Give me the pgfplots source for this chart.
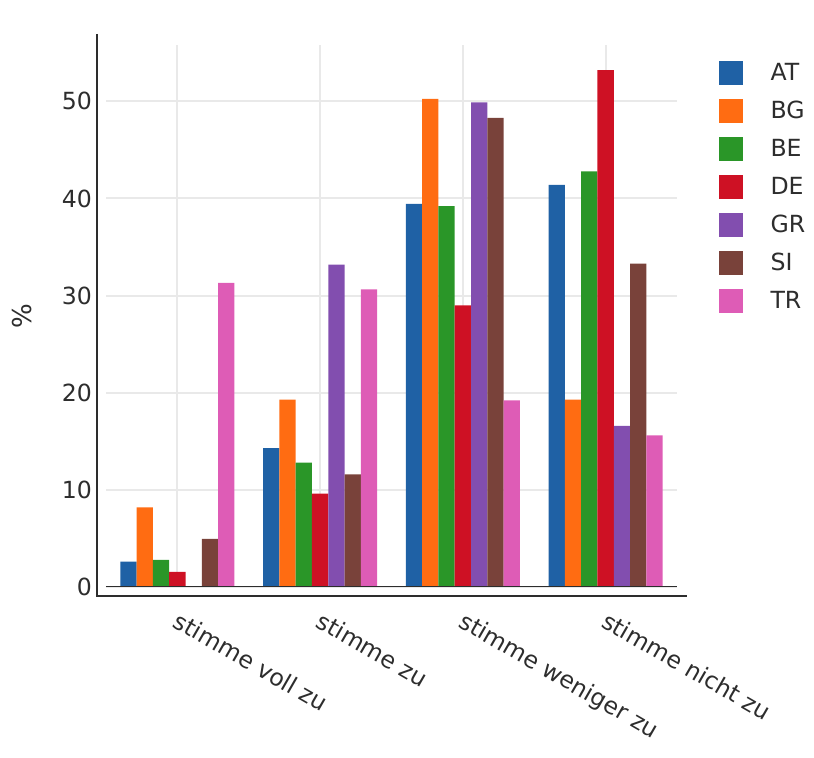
\documentclass[border=0pt]{standalone}
\usepackage{pgfplots}
\pgfplotsset{compat=1.18}
\usepackage{fontspec}
\setmainfont{DejaVu Sans}
\definecolor{cAT}{RGB}{31,97,165}
\definecolor{cBG}{RGB}{255,108,18}
\definecolor{cBE}{RGB}{42,150,40}
\definecolor{cDE}{RGB}{206,17,36}
\definecolor{cGR}{RGB}{130,78,175}
\definecolor{cSI}{RGB}{121,66,58}
\definecolor{cTR}{RGB}{222,92,182}
\definecolor{txt}{RGB}{45,45,45}
\definecolor{gridc}{RGB}{233,233,233}
\begin{document}
\begin{tikzpicture}
\useasboundingbox (-53pt,-85.5pt) rectangle (354pt,293.5pt);
\begin{axis}[
  at={(0pt,0pt)}, anchor=south west,
  scale only axis, width=285.5pt, height=271pt,
  xmin=-0.5, xmax=3.5, ymin=0, ymax=55.8,
  clip=false,
  axis line style={draw=none},
  ybar=0pt, bar width=0.1143,
  xtick={0,1,2,3},
  xticklabels={stimme voll zu, stimme zu, stimme weniger zu, stimme nicht zu},
  ytick={0,10,...,50},
  grid=major, major grid style={gridc, line width=1pt},
  major tick length=0pt,
  /pgf/number format/assume math mode=true,
  tick label style={font=\fontsize{11.8}{13}\selectfont, text=txt},
  x tick label style={xshift=0.5pt, yshift=-7pt, rotate=-30, anchor=north west},
  y tick label style={xshift=-3.5pt},
  ylabel={\%},
  ylabel style={at={(axis description cs:-0.147,0.5)}, anchor=center,
    font=\fontsize{13}{14}\selectfont, text=txt},
  legend style={draw=none, fill=none, at={(axis description cs:1.072,0.9705)},
    anchor=north west, inner sep=0pt, row sep=7pt,
    font=\fontsize{11.8}{13}\selectfont, text=txt,
    nodes={inner sep=0pt},
    /tikz/every odd column/.append style={column sep=14pt}},
  legend cell align=left,
  legend image code/.code={\fill[#1] (0pt,-6pt) rectangle (12pt,6pt);},
]
\addplot[fill=cAT, draw=none] coordinates {(0,2.6) (1,14.3) (2,39.45) (3,41.4)};
\addplot[fill=cBG, draw=none] coordinates {(0,8.2) (1,19.3) (2,50.25) (3,19.3)};
\addplot[fill=cBE, draw=none] coordinates {(0,2.8) (1,12.8) (2,39.2) (3,42.8)};
\addplot[fill=cDE, draw=none] coordinates {(0,1.55) (1,9.6) (2,29.0) (3,53.2)};
\addplot[fill=cGR, draw=none] coordinates {(0,0) (1,33.2) (2,49.9) (3,16.6)};
\addplot[fill=cSI, draw=none] coordinates {(0,4.95) (1,11.6) (2,48.3) (3,33.3)};
\addplot[fill=cTR, draw=none] coordinates {(0,31.3) (1,30.65) (2,19.2) (3,15.6)};
\legend{AT,BG,BE,DE,GR,SI,TR}
\draw[txt, line width=0.5pt] (rel axis cs:0,0) -- (rel axis cs:1,0);
\draw[txt, line width=1pt]
  ([xshift=-4.5pt,yshift=5.5pt]rel axis cs:0,1) --
  ([xshift=-4.5pt,yshift=-4.5pt]rel axis cs:0,0) --
  ([xshift=5pt,yshift=-4.5pt]rel axis cs:1,0);
\end{axis}
\end{tikzpicture}
\end{document}
